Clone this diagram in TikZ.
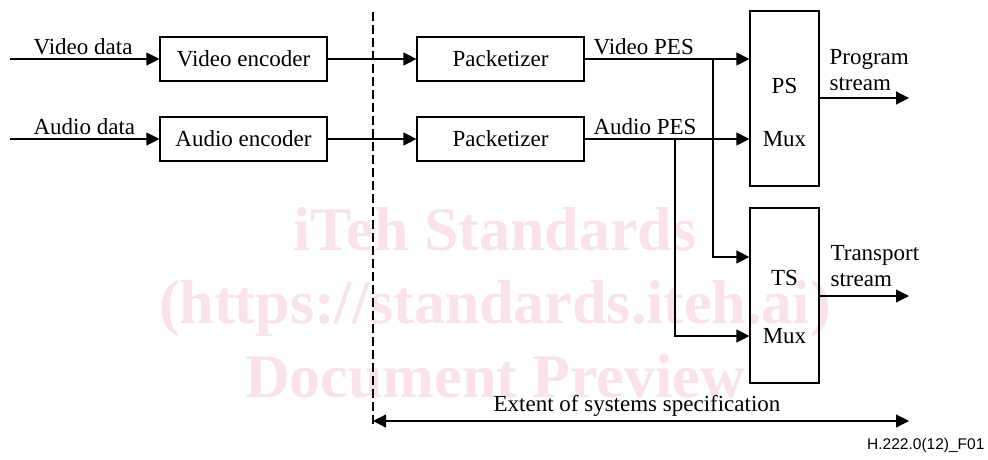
\documentclass[tikz,border=0pt]{standalone}
\usepackage{fontspec}
\setmainfont{Liberation Serif}
\newfontfamily\idfont{Liberation Sans}
\usetikzlibrary{arrows.meta, positioning}
\definecolor{wmpink}{RGB}{249,226,233}
\tikzset{
    flow/.style = {-{Triangle[length=13pt, width=13pt]}},
    twoway/.style = {{Triangle[length=13pt, width=13pt]}-{Triangle[length=13pt, width=13pt]}},
    block/.style = {rectangle, draw, minimum width=167pt, minimum height=44pt, inner sep=0pt},
    muxbox/.style = {rectangle, draw, minimum width=69pt, minimum height=175pt, inner sep=0pt},
    lbl/.style = {inner sep=0pt, anchor=base west},
    wmark/.style = {text=wmpink, inner sep=0pt, anchor=base, font=\fontsize{62}{62}\selectfont\bfseries}
    }

\begin{document}
\begin{tikzpicture}[
      x = 1pt, y = -1pt, % pixel grid of the figure
      line width = 1.2pt,
      font = \fontsize{23}{26}\selectfont
    ]
    \useasboundingbox (0,0) rectangle (988,459);

    % watermark behind everything
    \node[wmark] (wm1) at (495,250) {iTeh Standards};
    \node[wmark] (wm2) at (495,323) {(https://standards.iteh.ai)};
    \node[wmark] (wm3) at (495,397) {Document Preview};

    \node[block] (venc) at (243.5,59) {Video encoder};
    \node[block] (aenc) at (243.5,139) {Audio encoder};
    \node[block] (vpkt) at (500.5,59) {Packetizer};
    \node[block] (apkt) at (500.5,139) {Packetizer};
    \node[muxbox] (ps) at (784.5,98.5) {};
    \node[muxbox] (ts) at (784.5,295.5) {};

    \node (psname) at (784.5,86) {PS};
    \node (psmux) at (784.5,139) {Mux};
    \node (tsname) at (784.5,278) {TS};
    \node (tsmux) at (784.5,336) {Mux};

    \coordinate (vin) at (10,59);
    \coordinate (ain) at (10,139);
    \coordinate (vsplit) at (713,59);
    \coordinate (asplit) at (675,139);
    \coordinate (tsv) at (0,257);
    \coordinate (tsa) at (0,336);
    \coordinate (psout) at (909,98);
    \coordinate (tsout) at (909,296);
    \coordinate (dtop) at (373,12);
    \coordinate (dbot) at (373,428);
    \coordinate (xleft) at (373,421);
    \coordinate (xright) at (909,421);

    \draw[flow] (vin) -- (venc);
    \draw[flow] (ain) -- (aenc);
    \draw[flow] (venc) -- (vpkt);
    \draw[flow] (aenc) -- (apkt);
    \draw[flow] (vpkt) -- (vpkt -| ps.west);
    \draw[flow] (apkt) -- (apkt -| ps.west);
    \draw[flow] (vsplit) |- (ts.west |- tsv);
    \draw[flow] (asplit) |- (ts.west |- tsa);
    \draw[flow] (ps.east |- psout) -- (psout);
    \draw[flow] (ts.east |- tsout) -- (tsout);

    \draw[dash pattern=on 9pt off 4pt] (dtop) -- (dbot);
    \draw[twoway] (xleft) -- (xright);

    \node[lbl] (vdata) at (33,54) {Video data};
    \node[lbl] (adata) at (33,134) {Audio data};
    \node[lbl] (vpes) at (593,54) {Video PES};
    \node[lbl] (apes) at (593,134) {Audio PES};
    \node[inner sep=0pt, align=left, anchor=south west] (psoutl) at (829,91) {Program\\stream};
    \node[inner sep=0pt, align=left, anchor=south west] (tsoutl) at (830,287) {Transport\\stream};
    \node[inner sep=0pt, anchor=base] (extent) at (637,411) {Extent of systems specification};
    \node[inner sep=0pt, anchor=base east, font=\idfont\fontsize{15.5}{17}\selectfont] (figid) at (985,449) {H.222.0(12)\_F01};
\end{tikzpicture}
\end{document}
